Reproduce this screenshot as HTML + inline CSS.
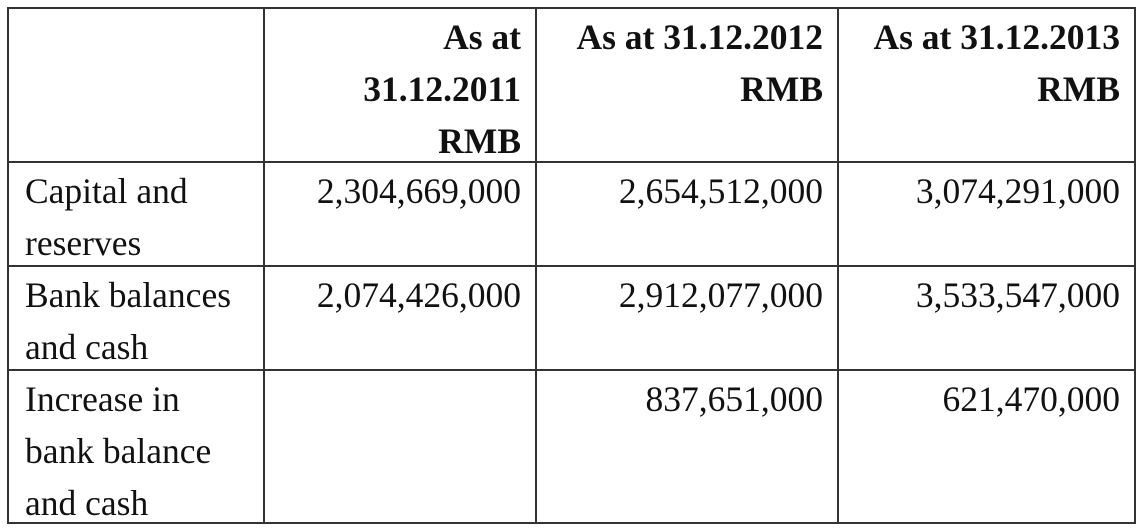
<!DOCTYPE html>
<html><head><meta charset="utf-8"><style>
body{margin:0;width:1137px;height:525px;background:#fff;position:relative;overflow:hidden;font-family:"Liberation Serif",serif;font-size:35.5px;color:#111}
.c{position:absolute;box-sizing:border-box;border:2px solid #333;line-height:52px;padding:2px 14px 0 16px}
.r{text-align:right}
b{font-weight:bold}
</style></head><body>
<div>
<div class="c" style="left:7px;top:7px;width:258px;height:156px"></div>
<div class="c r" style="left:263px;top:7px;width:274px;height:156px"><b>As at<br>31.12.2011<br>RMB</b></div>
<div class="c r" style="left:535px;top:7px;width:304px;height:156px"><b>As at 31.12.2012<br>RMB</b></div>
<div class="c r" style="left:837px;top:7px;width:299px;height:156px"><b>As at 31.12.2013<br>RMB</b></div>

<div class="c" style="left:7px;top:161px;width:258px;height:106px">Capital and<br>reserves</div>
<div class="c r" style="left:263px;top:161px;width:274px;height:106px">2,304,669,000</div>
<div class="c r" style="left:535px;top:161px;width:304px;height:106px">2,654,512,000</div>
<div class="c r" style="left:837px;top:161px;width:299px;height:106px">3,074,291,000</div>

<div class="c" style="left:7px;top:265px;width:258px;height:106px">Bank balances<br>and cash</div>
<div class="c r" style="left:263px;top:265px;width:274px;height:106px">2,074,426,000</div>
<div class="c r" style="left:535px;top:265px;width:304px;height:106px">2,912,077,000</div>
<div class="c r" style="left:837px;top:265px;width:299px;height:106px">3,533,547,000</div>

<div class="c" style="left:7px;top:369px;width:258px;height:155px">Increase in<br>bank balance<br>and cash</div>
<div class="c r" style="left:263px;top:369px;width:274px;height:155px"></div>
<div class="c r" style="left:535px;top:369px;width:304px;height:155px">837,651,000</div>
<div class="c r" style="left:837px;top:369px;width:299px;height:155px">621,470,000</div>
</div>
</body></html>
